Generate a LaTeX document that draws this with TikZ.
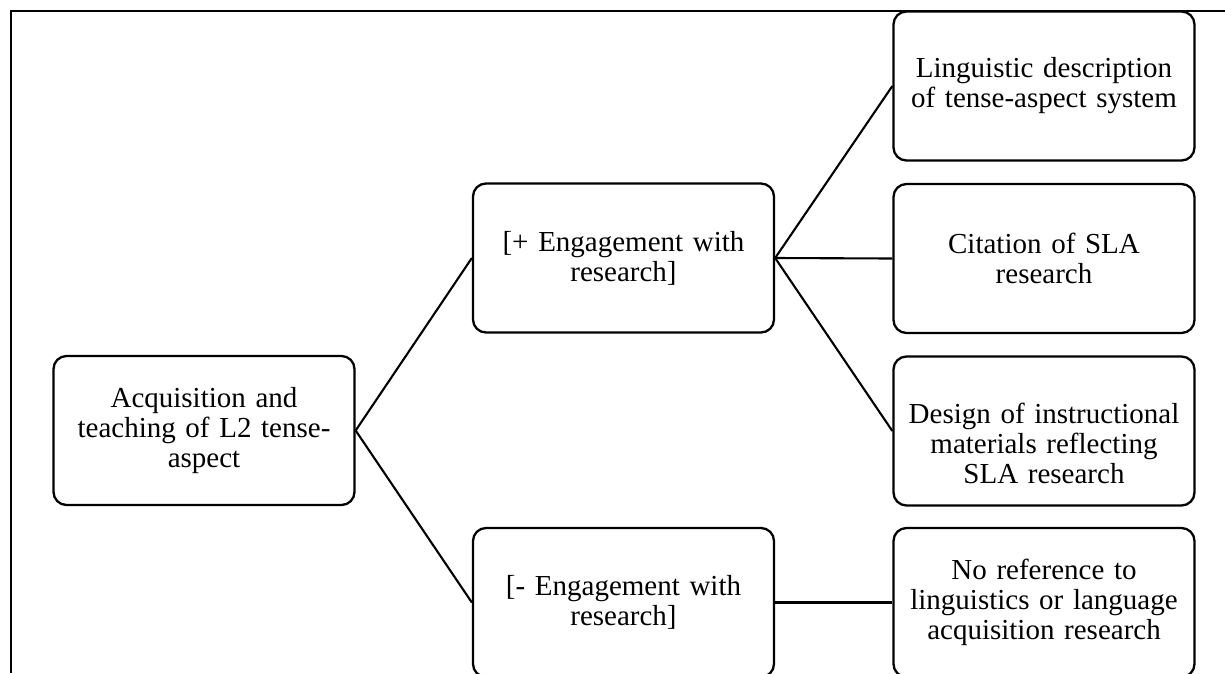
\documentclass[tikz,border=0pt]{standalone}
\usepackage{fontspec}
\setmainfont{Liberation Serif}
\usepackage{tikz}
\usetikzlibrary{positioning,calc}

\begin{document}
\begin{tikzpicture}[x=1pt,y=-1pt,
    box/.style={draw,line width=2.3pt,rounded corners=13pt,minimum width=301pt,minimum height=149pt,
        text width=295pt,align=center,inner sep=0pt,font=\fontsize{29}{30}\selectfont},
    link/.style={line width=2.1pt}]
    \clip (0,0) rectangle (1225,673);
    % outer frame (top and left only)
    \draw[line width=2.6pt] (11,673) -- (11,11) -- (1225,11);

    \node[box] (root) at (204,430.5) {Acquisition and\\teaching of L2 tense-\\aspect};
    \node[box] (plus) at (623.5,258) {[+ Engagement with\\research]};
    \node[box] (minus) at (623.5,602.5) {[- Engagement with\\research]};

    \node[box] (ling) at (1044,86) {Linguistic description\\of tense-aspect system};
    \node[box] (cite) at (1044,258.5) {Citation of SLA\\research};
    \node[box] (design) at (1044,431) {\rule{0pt}{46pt}Design of instructional\\materials reflecting\\SLA research};
    \node[box] (noref) at (1044,602.5) {No reference to\\linguistics or language\\acquisition research};

    \draw[link] (root.east) -- (plus.west);
    \draw[link] (root.east) -- (minus.west);
    \draw[link] (plus.east) -- (ling.west);
    \draw[link] (plus.east) -- (cite.west);
    \draw[link] (plus.east) -- (design.west);
    \draw[link] (minus.east) -- (noref.west);
\end{tikzpicture}
\end{document}
